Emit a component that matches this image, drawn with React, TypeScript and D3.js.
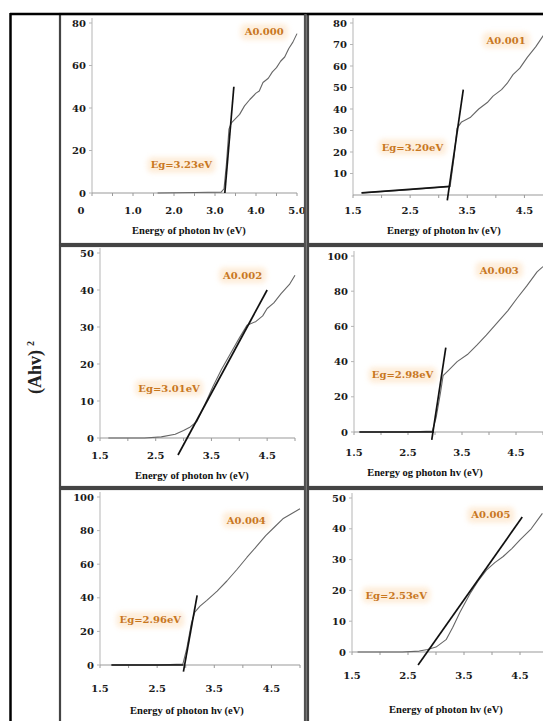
import * as d3 from "d3";

type Pt = [number, number];

// ---- valores ----
const samples = ["A0.000", "A0.001", "A0.002", "A0.003", "A0.004", "A0.005"];
const gapLabels = ["Eg=3.23eV", "Eg=3.20eV", "Eg=3.01eV", "Eg=2.98eV", "Eg=2.96eV", "Eg=2.53eV"];
const xTitles = [
  "Energy of photon hv (eV)",
  "Energy of photon hv (eV)",
  "Energy of photon hv (eV)",
  "Energy og photon hv (eV)",
  "Energy of photon hv (eV)",
  "Energy of photon hv (eV)",
];
const yTitle = "(Ahv)";

const xDomains: Pt[] = [[0, 5], [1.5, 5], [1.5, 5], [1.5, 5], [1.5, 5], [1.5, 5]];
const yDomains: Pt[] = [[0, 80], [0, 80], [0, 50], [0, 100], [0, 100], [0, 50]];
const xTickValues = [
  [0, 1, 2, 3, 4, 5],
  [1.5, 2.5, 3.5, 4.5],
  [1.5, 2.5, 3.5, 4.5],
  [1.5, 2.5, 3.5, 4.5],
  [1.5, 2.5, 3.5, 4.5],
  [1.5, 2.5, 3.5, 4.5],
];
const yTickValues = [
  [0, 20, 40, 60, 80],
  [10, 20, 30, 40, 50, 60, 70, 80],
  [0, 10, 20, 30, 40, 50],
  [0, 20, 40, 60, 80, 100],
  [0, 20, 40, 60, 80, 100],
  [0, 10, 20, 30, 40, 50],
];

const curve000: Pt[] = [[1.6, 0], [2.5, 0.2], [3.15, 0.4], [3.22, 2], [3.28, 14], [3.34, 30], [3.4, 33], [3.6, 37], [3.72, 41], [3.85, 44], [4.0, 47], [4.08, 48], [4.17, 52], [4.3, 54], [4.4, 57], [4.5, 59], [4.6, 62], [4.7, 64], [4.8, 68], [4.9, 71], [5.0, 75]];
const curve001: Pt[] = [[1.65, 1], [2.5, 2.5], [3.2, 4], [3.27, 18], [3.32, 31], [3.4, 34], [3.55, 36], [3.7, 40], [3.85, 43], [3.95, 46], [4.1, 49], [4.2, 52], [4.3, 56], [4.42, 59], [4.55, 64], [4.7, 69], [4.85, 75], [5.0, 80]];
const curve002: Pt[] = [[1.65, 0], [2.3, 0], [2.6, 0.3], [2.85, 1], [3.0, 2], [3.12, 3], [3.24, 4.5], [3.38, 9], [3.53, 14], [3.68, 18.5], [3.83, 22.5], [4.0, 27], [4.14, 30.5], [4.3, 31.5], [4.42, 33], [4.5, 35], [4.62, 36.5], [4.75, 39], [4.9, 41.5], [5.0, 44]];
const curve003: Pt[] = [[1.6, 0], [2.5, 0], [2.95, 0.5], [3.02, 8], [3.1, 22], [3.15, 32], [3.25, 35], [3.41, 40], [3.6, 44], [3.78, 49.5], [3.95, 55], [4.15, 62], [4.35, 69], [4.52, 76], [4.7, 83], [4.89, 91], [5.0, 94]];
const curve004: Pt[] = [[1.7, 0], [2.5, 0], [2.95, 0.5], [3.02, 10], [3.1, 25], [3.16, 31.5], [3.25, 35], [3.37, 38.5], [3.55, 44], [3.72, 50], [3.9, 57], [4.07, 64], [4.25, 71], [4.4, 77], [4.55, 82], [4.7, 87], [4.85, 90], [5.0, 93]];
const curve005: Pt[] = [[1.6, 0], [2.4, 0], [2.7, 0.3], [2.85, 0.8], [3.0, 1.6], [3.18, 4], [3.3, 8], [3.43, 13], [3.61, 19], [3.75, 23], [3.9, 26.6], [4.05, 29], [4.2, 31], [4.35, 33.5], [4.5, 36.4], [4.7, 40], [4.9, 45]];
const curves = [curve000, curve001, curve002, curve003, curve004, curve005];

// rectas de Tauc (extrapolación a Eg)
const tangents: Pt[][] = [
  [[3.24, 0], [3.46, 50]],
  [[3.15, -2.5], [3.43, 49]],
  [[2.9, -4.6], [4.5, 40]],
  [[2.94, -4.5], [3.2, 48]],
  [[2.96, -4], [3.2, 41.5]],
  [[2.68, -4.2], [4.54, 43.8]],
];
// tramo bajo marcado en negro
const baselines: (Pt[] | null)[] = [
  null,
  [[1.65, 1], [3.2, 4]],
  null,
  [[1.6, 0], [2.98, 0]],
  [[1.7, 0], [2.96, 0]],
  null,
];

// ---- disposición de cada panel (px) ----
const layout = [
  { box: [60, 14, 305, 244], xr: [92, 297], yr: [193, 23], tickY: 214, titleX: 189, titleY: 234, nameAt: [4.2, 75.8], gapAt: [2.18, 13.2] },
  { box: [308, 14, 560, 244], xr: [353, 553], yr: [195, 23], tickY: 214, titleX: 444, titleY: 234, nameAt: [4.18, 72], gapAt: [2.54, 22.3] },
  { box: [60, 246, 305, 487], xr: [100, 295], yr: [438, 253], tickY: 459, titleX: 192, titleY: 479, nameAt: [4.06, 44], gapAt: [2.74, 13.5] },
  { box: [308, 246, 560, 487], xr: [354, 543], yr: [432, 256], tickY: 456, titleX: 425, titleY: 476, nameAt: [4.19, 92], gapAt: [2.4, 32.4] },
  { box: [60, 489, 305, 740], xr: [100, 300], yr: [665, 497], tickY: 692, titleX: 187, titleY: 714, nameAt: [4.06, 86.3], gapAt: [2.38, 26.8] },
  { box: [308, 489, 560, 740], xr: [352, 548], yr: [652, 498], tickY: 679, titleX: 446, titleY: 713, nameAt: [3.98, 44.5], gapAt: [2.29, 18.5] },
];

const W = 543;
const H = 721;
const numFont = "'DejaVu Serif', serif";
const textFont = "'Liberation Serif', serif";
const orange = "#C8771F";

function Label({ x, y, text }: { x: number; y: number; text: string }) {
  const w = text.length * 6.9 + 6;
  return (
    <g>
      <rect x={x - w / 2} y={y - 8} width={w} height={16} rx={5} fill="#FDE2C2" opacity={0.6} filter="url(#brillo)" />
      <text x={x} y={y} dy="0.35em" textAnchor="middle" fontFamily={numFont} fontWeight="bold" fontSize={10} fill={orange}>
        {text}
      </text>
    </g>
  );
}

function Panel({ i }: { i: number }) {
  const L = layout[i];
  const x = d3.scaleLinear().domain(xDomains[i]).range(L.xr);
  const y = d3.scaleLinear().domain(yDomains[i]).range(L.yr);
  const line = d3.line<Pt>().x((d) => x(d[0])).y((d) => y(d[1]));
  const [bx0, by0, bx1, by1] = L.box;
  const y0 = y(0);
  const minor = d3.range(xDomains[i][0], xDomains[i][1] + 0.001, 0.5);
  const fmtX = (v: number) => (v === 0 ? "0" : d3.format(".1f")(v));
  const base = baselines[i];

  return (
    <g>
      <rect x={bx0} y={by0} width={bx1 - bx0} height={by1 - by0} fill="#fff" stroke="#444" strokeWidth={2.2} />
      {/* ejes */}
      <line x1={L.xr[0]} x2={L.xr[0]} y1={y0} y2={L.yr[1] - 5} stroke="#b5b5b5" strokeWidth={1} />
      <line x1={L.xr[0]} x2={L.xr[1]} y1={y0} y2={y0} stroke="#9a9a9a" strokeWidth={1.2} />
      {minor.map((v) => (
        <line key={"m" + v} x1={x(v)} x2={x(v)} y1={y0} y2={y0 + 3} stroke="#9a9a9a" strokeWidth={1} />
      ))}
      {yTickValues[i].map((v) => (
        <g key={"y" + v}>
          <line x1={L.xr[0] - 3} x2={L.xr[0]} y1={y(v)} y2={y(v)} stroke="#b5b5b5" strokeWidth={1} />
          <text x={L.xr[0] - 6} y={y(v)} dy="0.35em" textAnchor="end" fontFamily={numFont} fontWeight="bold" fontSize={10} fill="#1a1a1a">
            {v}
          </text>
        </g>
      ))}
      {xTickValues[i].map((v) => (
        <text key={"x" + v} x={x(v) + (v === 0 ? -11 : 0)} y={L.tickY} textAnchor="middle" fontFamily={numFont} fontWeight="bold" fontSize={10} fill="#1a1a1a">
          {fmtX(v)}
        </text>
      ))}
      <text x={L.titleX} y={L.titleY} textAnchor="middle" fontFamily={textFont} fontWeight="bold" fontSize={10.5} fill="#111">
        {xTitles[i]}
      </text>
      {/* datos */}
      <path d={line(curves[i]) || ""} fill="none" stroke="#666" strokeWidth={1.1} strokeLinejoin="round" />
      {base && <path d={line(base) || ""} fill="none" stroke="#151515" strokeWidth={1.7} />}
      <path d={line(tangents[i]) || ""} fill="none" stroke="#111" strokeWidth={1.7} />
      <Label x={x(L.nameAt[0])} y={y(L.nameAt[1])} text={samples[i]} />
      <Label x={x(L.gapAt[0])} y={y(L.gapAt[1])} text={gapLabels[i]} />
    </g>
  );
}

export default function App() {
  return (
    <svg width={W} height={H} viewBox={`0 0 ${W} ${H}`} style={{ position: "absolute", left: 0, top: 0, background: "#fff" }}>
      <defs>
        <filter id="brillo" x="-30%" y="-60%" width="160%" height="220%">
          <feGaussianBlur stdDeviation={2.5} />
        </filter>
      </defs>
      <rect x={0} y={0} width={W} height={H} fill="#fff" />
      {samples.map((_, i) => (
        <Panel key={i} i={i} />
      ))}
      {/* marco exterior */}
      <line x1={10} x2={W} y1={14} y2={14} stroke="#000" strokeWidth={2.5} />
      <line x1={10.5} x2={10.5} y1={13} y2={H} stroke="#000" strokeWidth={2.5} />
      <line x1={305.5} x2={305.5} y1={14} y2={H} stroke="#555" strokeWidth={2.5} />
      <text transform="translate(41,394) rotate(-90)" fontFamily={textFont} fontWeight="bold" fontSize={18} fill="#222">
        {yTitle}
        <tspan fontSize={10} dx={4} dy={-7}>2</tspan>
      </text>
    </svg>
  );
}
